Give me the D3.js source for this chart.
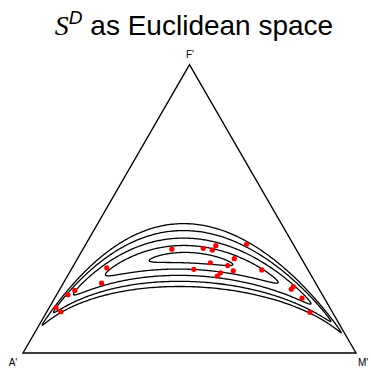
<!DOCTYPE html>
<html>
<head>
<meta charset="utf-8">
<script src="https://cdn.jsdelivr.net/npm/d3@7"></script>
<style>
  body { margin: 0; background: #fff; }
  text { font-family: "Liberation Sans", Arial, sans-serif; }
</style>
</head>
<body>
<svg id="chart"></svg>
<script>
// sample compositions, parts A', F', M'
const partA = [0.373, 0.277, 0.253, 0.235, 0.140, 0.202, 0.281, 0.234, 0.226, 0.268, 0.283, 0.342,
               0.139, 0.601, 0.643, 0.736, 0.764, 0.822, 0.815, 0.073, 0.084, 0.067, 0.068];
const partF = [0.360, 0.363, 0.357, 0.372, 0.377, 0.327, 0.313, 0.303, 0.285, 0.278, 0.267, 0.290,
               0.288, 0.295, 0.242, 0.217, 0.202, 0.157, 0.143, 0.230, 0.221, 0.190, 0.141];
const partM = [0.267, 0.360, 0.390, 0.393, 0.483, 0.471, 0.406, 0.463, 0.489, 0.454, 0.450, 0.368,
               0.573, 0.104, 0.115, 0.047, 0.034, 0.021, 0.042, 0.697, 0.695, 0.743, 0.791];
const vertexLabels = ["A'", "F'", "M'"];
// mahalanobis radii of the normal density contours (in ilr coordinates)
const contourLevels = [0.42, 0.95, 1.5, 2.05, 2.55];

const width = 371;
const height = 368;

const svg = d3.select('#chart')
  .attr('width', width)
  .attr('height', height);

// ternary projection: horizontal position m + f/2, vertical position f
const xScale = d3.scaleLinear().domain([0, 1]).range([23, 356]);
const yScale = d3.scaleLinear().domain([0, 1]).range([353, 64.6]);
const px = (a, f, m) => xScale(m + f / 2);
const py = (a, f, m) => yScale(f);

// ilr with an orthonormal basis
const ilr = (a, f, m) => [
  Math.log(a / m) / Math.SQRT2,
  (Math.log(a) - 2 * Math.log(f) + Math.log(m)) / Math.sqrt(6)
];
const ilrInv = (z) => {
  const c = [z[0] / Math.SQRT2 + z[1] / Math.sqrt(6),
             -2 * z[1] / Math.sqrt(6),
             -z[0] / Math.SQRT2 + z[1] / Math.sqrt(6)];
  const e = c.map(Math.exp);
  const s = d3.sum(e);
  return e.map(v => v / s);
};

const Z = partA.map((a, i) => ilr(a, partF[i], partM[i]));
const mu = [d3.mean(Z, d => d[0]), d3.mean(Z, d => d[1])];
const n = Z.length;
let s11 = 0, s12 = 0, s22 = 0;
Z.forEach((d) => {
  const u = d[0] - mu[0];
  const v = d[1] - mu[1];
  s11 += u * u; s12 += u * v; s22 += v * v;
});
s11 /= n - 1; s12 /= n - 1; s22 /= n - 1;
const l11 = Math.sqrt(s11);
const l21 = s12 / l11;
const l22 = Math.sqrt(s22 - l21 * l21);

const line = d3.line().curve(d3.curveLinearClosed);
const angles = d3.range(0, 2 * Math.PI, Math.PI / 360);

const g = svg.append('g');

// triangle
g.append('path')
  .attr('d', line([[px(1, 0, 0), py(1, 0, 0)], [px(0, 1, 0), py(0, 1, 0)], [px(0, 0, 1), py(0, 0, 1)]]))
  .attr('fill', 'none')
  .attr('stroke', '#000')
  .attr('stroke-width', 1.4);

// contours
g.selectAll('.contour')
  .data(contourLevels)
  .enter().append('path')
    .attr('class', 'contour')
    .attr('fill', 'none')
    .attr('stroke', '#000')
    .attr('stroke-width', 1.3)
    .attr('d', r => line(angles.map((t) => {
      const u = Math.cos(t);
      const v = Math.sin(t);
      const comp = ilrInv([mu[0] + r * l11 * u, mu[1] + r * (l21 * u + l22 * v)]);
      return [px(...comp), py(...comp)];
    })));

// points
g.selectAll('.pt')
  .data(partA.map((a, i) => [a, partF[i], partM[i]]))
  .enter().append('circle')
    .attr('class', 'pt')
    .attr('cx', d => px(...d))
    .attr('cy', d => py(...d))
    .attr('r', 2.6)
    .attr('fill', '#ff0000');

// vertex labels
g.append('text').attr('x', 13).attr('y', 366).attr('text-anchor', 'middle')
  .attr('font-size', 10).text(vertexLabels[0]);
g.append('text').attr('x', 190).attr('y', 58).attr('text-anchor', 'middle')
  .attr('font-size', 10).text(vertexLabels[1]);
g.append('text').attr('x', 363).attr('y', 366).attr('text-anchor', 'middle')
  .attr('font-size', 10).text(vertexLabels[2]);

// title
const title = svg.append('text')
  .attr('x', 194)
  .attr('y', 35)
  .attr('text-anchor', 'middle')
  .attr('font-size', 28);
title.append('tspan').attr('font-family', '"Liberation Serif"').attr('font-style', 'italic').text('S');
title.append('tspan').attr('font-style', 'italic').attr('font-size', 19).attr('dy', -11).text('D');
title.append('tspan').attr('dy', 11).text(' as Euclidean space');
</script>
</body>
</html>
